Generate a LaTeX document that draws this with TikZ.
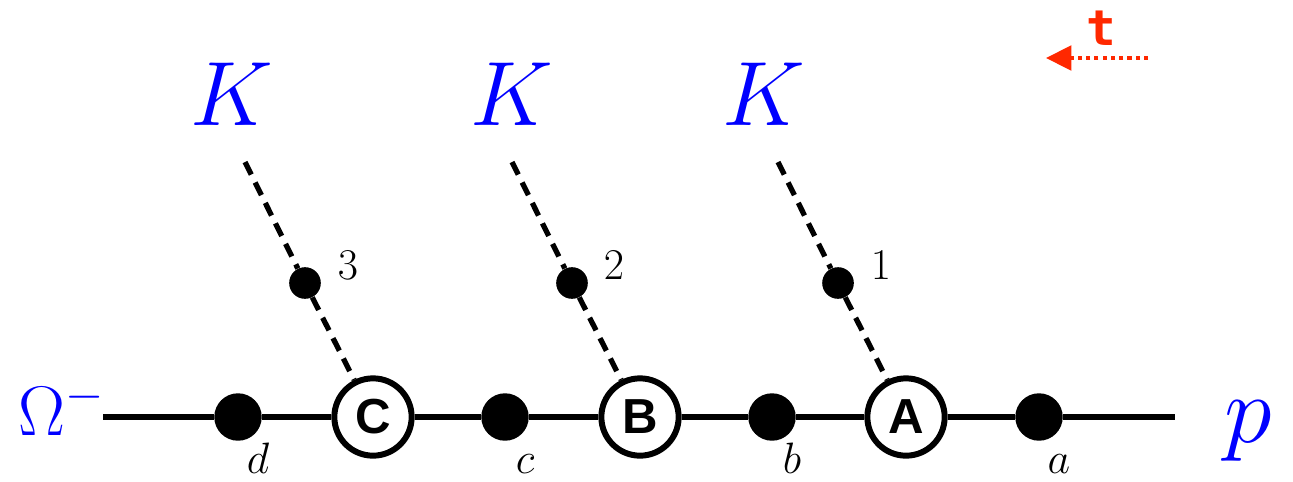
\RequirePackage{fix-cm}
\documentclass[tikz,border=0pt]{standalone}
\usepackage{fontspec}
\newfontfamily\lettfont{Liberation Sans}
\newfontfamily\timefont{DejaVu Sans Mono}
\usetikzlibrary{arrows.meta}
\definecolor{kblue}{RGB}{0,0,255}
\definecolor{tred}{RGB}{255,40,0}

\begin{document}
\begin{tikzpicture}[x=0.02cm,y=-0.02cm,
  fulldot/.style={shape=circle, fill=black, inner sep=0pt, minimum size=27pt},
  smalldot/.style={shape=circle, fill=black, inner sep=0pt, minimum size=18pt},
  vertex/.style={shape=circle, draw, fill=white, line width=3.4pt, inner sep=0pt,
    minimum size=44pt, font=\lettfont\bfseries\fontsize{28}{30}\selectfont},
  lbl/.style={inner sep=0pt, anchor=base, font=\fontsize{25}{28}\selectfont},
  bigmath/.style={inner sep=0pt, anchor=base, text=kblue},
  dashline/.style={line width=3pt, dash pattern=on 8pt off 5pt}]
\useasboundingbox (0,0) rectangle (1293,481);
% propagator line
\coordinate (lft) at (103,417);
\coordinate (rgt) at (1175,417);
\node[fulldot] (d) at (238,417) {};
\node[vertex] (C) at (373,417) {C};
\node[fulldot] (c) at (505,417) {};
\node[vertex] (B) at (640,417) {B};
\node[fulldot] (b) at (772,417) {};
\node[vertex] (A) at (906,417) {A};
\node[fulldot] (a) at (1039,417) {};
\draw[line width=3.1pt] (lft) -- (d) -- (C) -- (c) -- (B) -- (b) -- (A) -- (a) -- (rgt);
% kaon legs
\coordinate (kC) at (245,162);
\coordinate (kB) at (512,162);
\coordinate (kA) at (778,162);
\node[smalldot] (s3) at (305,283) {};
\node[smalldot] (s2) at (572,283) {};
\node[smalldot] (s1) at (838,283) {};
\draw[dashline] (kC) -- (s3) -- (C);
\draw[dashline] (kB) -- (s2) -- (B);
\draw[dashline] (kA) -- (s1) -- (A);
% labels
\node[lbl] (n3) at (348,279) {$3$};
\node[lbl] (n2) at (614,279) {$2$};
\node[lbl] (n1) at (881,279) {$1$};
\node[lbl] (ld) at (258,473) {$d$};
\node[lbl] (lc) at (525,473) {$c$};
\node[lbl] (lb) at (792,473) {$b$};
\node[lbl] (la) at (1059,473) {$a$};
\node[bigmath, font=\fontsize{52}{56}\selectfont] (K3) at (232,125) {$K$};
\node[bigmath, font=\fontsize{52}{56}\selectfont] (K2) at (512,125) {$K$};
\node[bigmath, font=\fontsize{52}{56}\selectfont] (K1) at (764,125) {$K$};
\node[bigmath, anchor=base west, font=\fontsize{40}{44}\selectfont] (om) at (18,435) {$\Omega^-$};
\node[bigmath, font=\fontsize{55}{58}\selectfont] (pp) at (1248,442) {$p$};
% time direction
\coordinate (tS) at (1148,58);
\coordinate (tE) at (1046,58);
\draw[tred, line width=2.3pt, dash pattern=on 2.3pt off 2.4pt,
  -{Triangle[length=14.5pt, width=14pt]}] (tS) -- (tE);
\node[inner sep=0pt, text=tred, font=\timefont\bfseries\fontsize{28}{30}\selectfont] (tt) at (1101,28) {t};
\end{tikzpicture}
\end{document}
